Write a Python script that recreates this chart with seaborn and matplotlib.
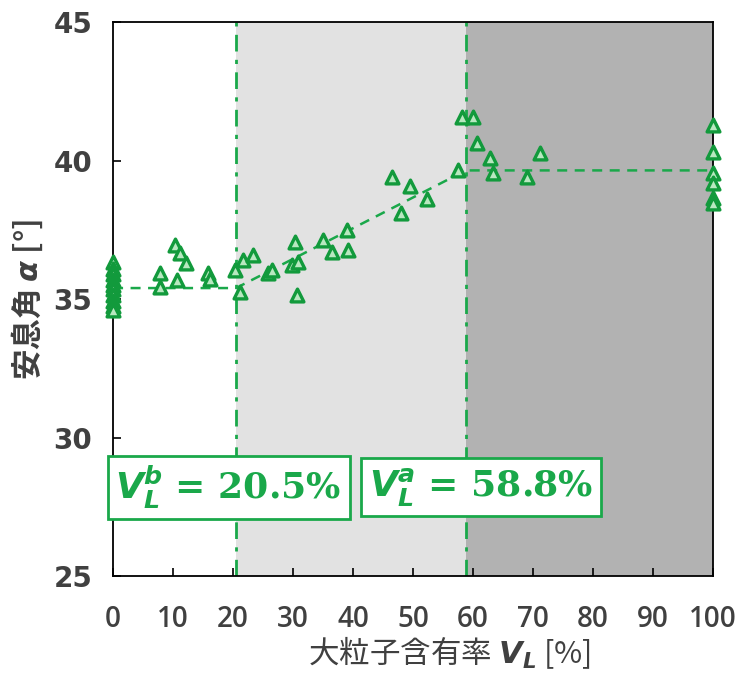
import numpy as np
import pandas as pd
import matplotlib
matplotlib.use("Agg")
import matplotlib.pyplot as plt
import seaborn as sns

# ---- data ----
vl = [0, 0, 0, 0, 0, 0, 0, 0, 0, 0,
      7.8, 7.8, 10.3, 10.7, 11.2, 12.2, 15.8, 16.2,
      20.3, 21.2, 21.7, 23.3, 25.8, 26.5, 29.8, 30.3, 30.7, 30.8,
      35.0, 36.5, 39.0, 39.2, 46.5, 48.0, 49.5, 52.3, 57.5,
      58.2, 60.0, 60.6, 62.8, 63.3, 69.0, 71.2,
      100, 100, 100, 100, 100, 100]
alpha = [36.35, 36.1, 35.9, 35.7, 35.5, 35.35, 35.15, 34.95, 34.75, 34.6,
         35.94, 35.43, 36.95, 35.69, 36.66, 36.3, 35.94, 35.72,
         36.05, 35.25, 36.4, 36.6, 35.94, 36.05, 36.23, 37.06, 35.14, 36.34,
         37.13, 36.7, 37.5, 36.77, 39.4, 38.1, 39.1, 38.6, 39.66,
         41.57, 41.57, 40.63, 40.09, 39.55, 39.4, 40.27,
         41.28, 40.3, 39.55, 39.2, 38.65, 38.47]
fit_x = [0, 20.5, 58.8, 100]
fit_y = [35.4, 35.4, 39.65, 39.65]
vl_b = 20.5
vl_a = 58.8
x_ticks = [0, 10, 20, 30, 40, 50, 60, 70, 80, 90, 100]
y_ticks = [25, 30, 35, 40, 45]

sns.set_style("ticks")
plt.rcParams['font.family'] = ['Open Sans', 'Noto Sans CJK JP', 'DejaVu Sans']
plt.rcParams['mathtext.fontset'] = 'dejavusans'

green = '#1aa84a'
dgreen = '#129a3c'
tcol = '#404040'

fig = plt.figure(figsize=(7.39, 6.76), dpi=100)
ax = fig.add_axes([0.153, 0.148, 0.812, 0.819])

ax.axvspan(vl_b, vl_a, color='#e2e2e2', zorder=0, lw=0)
ax.axvspan(vl_a, 100, color='#b2b2b2', zorder=0, lw=0)
ax.axvline(vl_b, color=green, ls=(0, (6, 3, 1.5, 3)), lw=2, zorder=1)
ax.axvline(vl_a, color=green, ls=(0, (6, 3, 1.5, 3)), lw=2, zorder=1)

fit_df = pd.DataFrame({'x': fit_x, 'y': fit_y})
sns.lineplot(data=fit_df, x='x', y='y', ax=ax, color=green, lw=1.8,
             linestyle=(0, (4, 3)), zorder=2)

df = pd.DataFrame({'vl': vl, 'alpha': alpha})
sns.scatterplot(data=df, x='vl', y='alpha', ax=ax, marker='^', s=85,
                facecolor='#b8e8c0', edgecolor=dgreen, linewidth=2.4,
                zorder=5, clip_on=False)

ax.set_xlim(0, 100)
ax.set_ylim(25, 45)
ax.set_xticks(x_ticks)
ax.set_yticks(y_ticks)
ax.tick_params(direction='in', length=6, width=1.2, colors='black',
               labelcolor=tcol)
ax.tick_params(axis='y', pad=15)
ax.tick_params(axis='x', pad=21)
for lab in ax.get_yticklabels():
    lab.set_fontsize(20)
    lab.set_fontweight('bold')
    lab.set_family('DejaVu Sans')
for lab in ax.get_xticklabels():
    lab.set_fontsize(20)
    lab.set_fontweight('semibold')
for sp in ax.spines.values():
    sp.set_linewidth(1.3)
    sp.set_color('black')

ax.set_xlabel(r'大粒子含有率 $\mathbfit{V_L}$ [%]', fontsize=22, color=tcol,
              family=['Noto Sans CJK JP', 'DejaVu Sans'])
ax.xaxis.set_label_coords(0.56, -0.105)
ax.set_ylabel(r'安息角 $\mathbfit{\alpha}$ [°]', fontsize=22, color=tcol,
              fontweight='bold', family=['Noto Sans CJK JP', 'DejaVu Sans'],
              labelpad=6)

bbox = dict(boxstyle='square,pad=0.22', fc='white', ec=green, lw=2)
ax.text(0.4, 28.2, r'$\mathbfit{V_L^b}$ = 20.5%', fontsize=26, color=green,
        fontweight='bold', family=['DejaVu Serif'], va='center', ha='left',
        bbox=bbox, zorder=6)
ax.text(42.6, 28.2, r'$\mathbfit{V_L^a}$ = 58.8%', fontsize=26, color=green,
        fontweight='bold', family=['DejaVu Serif'], va='center', ha='left',
        bbox=bbox, zorder=6)

fig.savefig('out.png', dpi=100)
